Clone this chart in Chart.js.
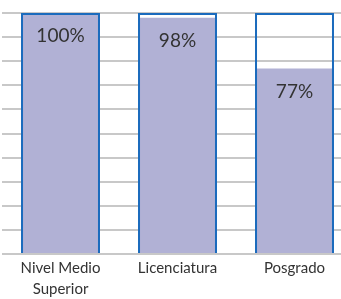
<!DOCTYPE html>
<html>
<head>
<meta charset="utf-8">
<script src="https://cdn.jsdelivr.net/npm/chart.js@4"></script>
<style>
  html, body { margin: 0; padding: 0; background: #fff; overflow: hidden; width: 341px; height: 299px; }
  #wrap { width: 353px; height: 299px; position: relative; }
</style>
</head>
<body>
<div id="wrap"><canvas id="c"></canvas></div>
<script>
var categories = [["Nivel Medio", "Superior"], "Licenciatura", "Posgrado"];
var shares = [100, 98, 77];
var capacity = [100, 100, 100];
var yTicks = [0, 10, 20, 30, 40, 50, 60, 70, 80, 90, 100];

// writes "NN%" just below the top of each filled bar
var valueLabels = {
    id: "valueLabels",
    afterDatasetsDraw: function(chart) {
        var ctx = chart.ctx;
        var meta = chart.getDatasetMeta(0);
        ctx.save();
        ctx.font = "19px Lato";
        ctx.fillStyle = "#333333";
        ctx.textAlign = "center";
        ctx.textBaseline = "middle";
        meta.data.forEach(function(bar, i) {
            ctx.fillText(shares[i] + "%", bar.x, bar.y + 23);
        });
        ctx.restore();
    }
};

new Chart(document.getElementById("c"), {
    type: "bar",
    data: {
        labels: categories,
        datasets: [
            { label: "Porcentaje", data: shares, backgroundColor: "#b1b1d5", borderWidth: 0, barPercentage: 0.675, categoryPercentage: 1, grouped: false, order: 2 },
            { label: "Total", data: capacity, backgroundColor: "rgba(0,0,0,0)", borderColor: "#1b6bbd", borderWidth: 2, barPercentage: 0.675, categoryPercentage: 1, grouped: false, order: 1 }
        ]
    },
    options: {
        animation: false,
        responsive: true,
        maintainAspectRatio: false,
        layout: { padding: { top: 13, left: 2, right: 0, bottom: 0 } },
        scales: {
            x: {
                grid: { display: false, drawTicks: false },
                border: { display: false },
                ticks: { color: "#333333", font: { family: "Lato", size: 15, lineHeight: 1.45 }, padding: 3 },
                afterFit: function(scale) { scale.height = 45; }
            },
            y: {
                min: 0, max: 100,
                afterBuildTicks: function(scale) { scale.ticks = yTicks.map(function(v) { return { value: v }; }); },
                ticks: { display: false },
                border: { display: false },
                grid: { color: "#c8c8c8", lineWidth: 2, drawTicks: false }
            }
        },
        plugins: { legend: { display: false }, tooltip: { enabled: false } }
    },
    plugins: [valueLabels]
});
</script>
</body>
</html>
